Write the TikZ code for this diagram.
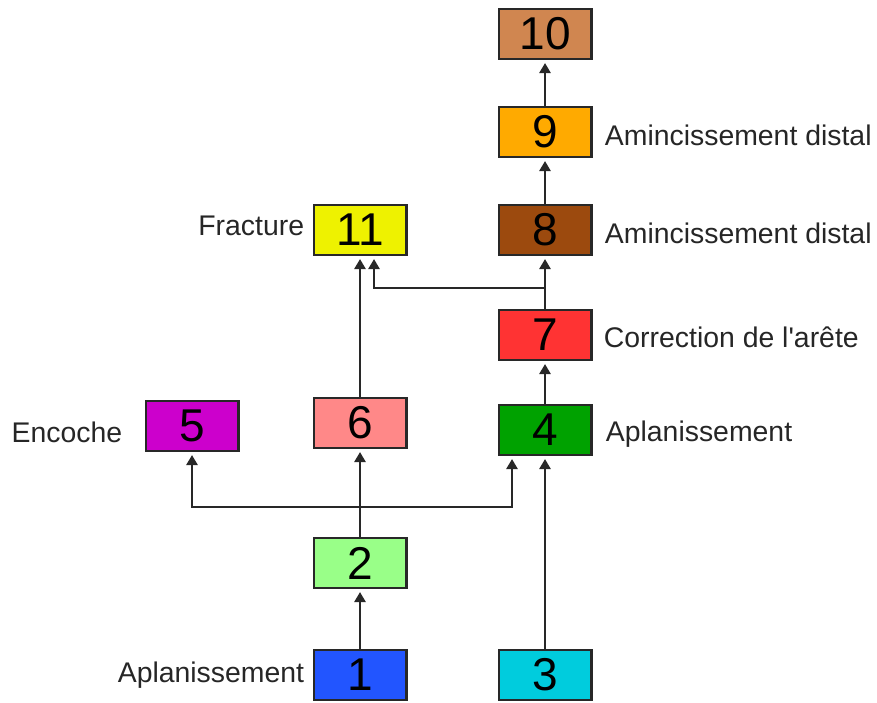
\documentclass[tikz,border=0pt]{standalone}
\usepackage{fontspec}
\setmainfont{Liberation Sans}
\usetikzlibrary{positioning,arrows.meta}
\definecolor{c1}{RGB}{34,85,255}
\definecolor{c2}{RGB}{153,255,136}
\definecolor{c3}{RGB}{0,204,221}
\definecolor{c4}{RGB}{0,162,0}
\definecolor{c5}{RGB}{204,0,204}
\definecolor{c6}{RGB}{255,136,136}
\definecolor{c7}{RGB}{255,51,51}
\definecolor{c8}{RGB}{156,74,14}
\definecolor{c9}{RGB}{255,170,0}
\definecolor{c10}{RGB}{208,134,80}
\definecolor{c11}{RGB}{238,242,0}
\definecolor{edge}{RGB}{40,40,40}
\tikzset{
	stepbox/.style={draw=edge, line width=1.2pt, minimum width=46.3pt, minimum height=24.8pt, inner sep=0pt, font=\fontsize{23}{24}\selectfont},
	tag/.style={inner sep=0pt, text=black!85, font=\fontsize{14.2}{16}\selectfont},
	arr/.style={draw=edge, line width=1.3pt, -{Triangle[width=5.5pt,length=5pt]}, shorten >=1.5pt},
}
\begin{document}
\begin{tikzpicture}[x=0.5pt, y=-0.5pt]
	\useasboundingbox (0,0) rectangle (877,702);
	% boxes
	\foreach \n/\x/\y in {1/360/675, 2/360/563, 3/545/675, 4/545/430, 5/192/426, 6/360/423, 7/545/335, 8/545/230, 9/545/132, 10/545/34, 11/360/230}
		\node[stepbox, fill=c\n] (n\n) at (\x,\y) {\n};
	% labels
	\node[tag, left=4pt of n1] (t1) {Aplanissement};
	\node[tag, left=11pt of n5, yshift=-3pt] (t5) {Encoche};
	\node[tag, left=4pt of n11, yshift=2pt] (t11) {Fracture};
	\node[tag, right=6.5pt of n4, yshift=-2pt] (t4) {Aplanissement};
	\node[tag, right=5.5pt of n7, yshift=-1pt] (t7) {Correction de l\textquotesingle arête};
	\node[tag, right=6pt of n8, yshift=-1.5pt] (t8) {Amincissement distal};
	\node[tag, right=6pt of n9, yshift=-1.5pt] (t9) {Amincissement distal};
	% links
	\coordinate (fork) at (360,507);
	\coordinate (join) at (545,288);
	\draw[arr] (n1) -- (n2);
	\draw[arr] (n2) -- (n6);
	\draw[arr] (fork) -| (n5.south);
	\draw[arr] (fork) -| ([xshift=-16.5pt]n4.south);
	\draw[arr] (n3) -- (n4);
	\draw[arr] (n4) -- (n7);
	\draw[arr] (n7) -- (n8);
	\draw[arr] (join) -| ([xshift=7pt]n11.south);
	\draw[arr] (n6) -- (n11);
	\draw[arr] (n8) -- (n9);
	\draw[arr] (n9) -- (n10);
\end{tikzpicture}
\end{document}
